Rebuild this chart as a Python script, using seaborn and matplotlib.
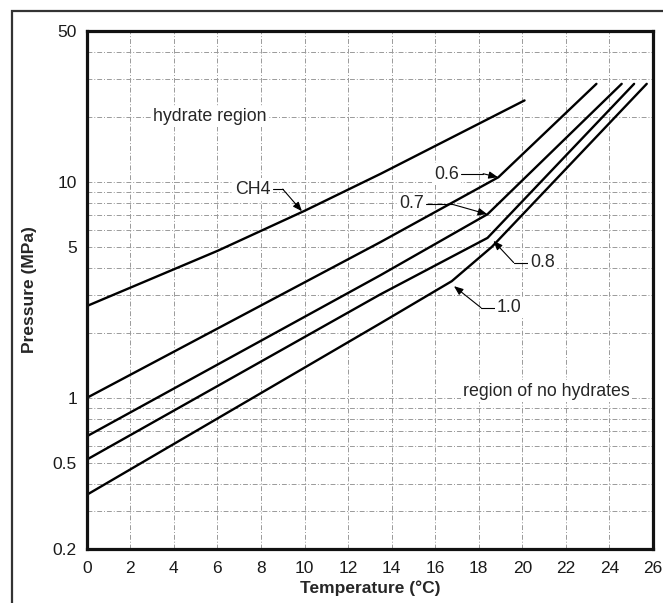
import matplotlib
matplotlib.use("Agg")
import matplotlib.pyplot as plt
import seaborn as sns
import pandas as pd
from matplotlib.ticker import FixedLocator, NullFormatter, LogLocator
from matplotlib.patches import Rectangle

# ---- data ----
temp_ch4 = [0, 6, 10, 13.5, 20.1]
pres_ch4 = [2.66, 4.79, 7.34, 10.9, 23.8]

temp_06 = [0, 13.47, 18.9, 23.4]
pres_06 = [1.0, 5.25, 10.5, 28.4]

temp_07 = [0, 13.47, 18.4, 24.56]
pres_07 = [0.664, 3.69, 7.08, 28.4]

temp_08 = [0, 13.47, 18.4, 25.13]
pres_08 = [0.518, 3.01, 5.5, 28.4]

temp_10 = [0, 13.47, 16.76, 18.6, 25.71]
pres_10 = [0.356, 2.21, 3.47, 5.0, 28.4]

series_names = ["CH4", "0.6", "0.7", "0.8", "1.0"]
x_ticks = [0, 2, 4, 6, 8, 10, 12, 14, 16, 18, 20, 22, 24, 26]
y_ticks = [0.2, 0.5, 1, 5, 10, 50]
y_tick_labels = ["0.2", "0.5", "1", "5", "10", "50"]

frames = []
for name, t, p in zip(series_names,
                      [temp_ch4, temp_06, temp_07, temp_08, temp_10],
                      [pres_ch4, pres_06, pres_07, pres_08, pres_10]):
    frames.append(pd.DataFrame({"T": t, "P": p, "gas": name}))
df = pd.concat(frames, ignore_index=True)

sns.set_style("white")
plt.rcParams["font.family"] = ["Liberation Sans", "DejaVu Sans"]

fig = plt.figure(figsize=(6.63, 6.03), dpi=100)
ax = fig.add_axes([0.1308, 0.0896, 0.985 - 0.1308, 0.949 - 0.0896])

sns.lineplot(data=df, x="T", y="P", units="gas", estimator=None, sort=False,
             color="black", lw=1.7, ax=ax, legend=False)

ax.set_yscale("log")
ax.set_xlim(0, 26)
ax.set_ylim(0.2, 50)

ax.set_xticks(x_ticks)
ax.set_xticklabels([str(v) for v in x_ticks])
ax.yaxis.set_major_locator(FixedLocator(y_ticks))
ax.set_yticklabels(y_tick_labels)
ax.yaxis.set_minor_locator(LogLocator(base=10, subs=range(1, 10)))
ax.yaxis.set_minor_formatter(NullFormatter())
ax.tick_params(axis="both", which="both", length=0, labelsize=12.5,
               colors="#1a1a1a")
ax.tick_params(axis="x", pad=9)
ax.tick_params(axis="y", pad=7)

# grid
grid_kw = dict(color="#9a9a9a", lw=0.7, linestyle=(0, (5, 2, 1, 2)))
for xv in x_ticks[1:-1]:
    ax.axvline(xv, zorder=0, **grid_kw)
ax.yaxis.grid(True, which="both", zorder=0, **grid_kw)
ax.set_axisbelow(True)

for s in ax.spines.values():
    s.set_linewidth(2.3)
    s.set_color("#111111")

ax.set_xlabel("Temperature (°C)", fontsize=12.5, fontweight="bold", labelpad=3)
ax.set_ylabel("Pressure (MPa)", fontsize=12.5, fontweight="bold")
ax.yaxis.set_label_coords(-0.088, 0.5)

bbox_w = dict(facecolor="white", edgecolor="none", pad=1.5)
ax.text(5.66, 20, "hydrate region", fontsize=12.8, ha="center", va="center", bbox=bbox_w)
ax.text(21.12, 1.075, "region of no hydrates", fontsize=12.8, ha="center", va="center", bbox=bbox_w)

# labelled arrows: (text pos, knee, tip)
ann = [
    ("CH4", (7.64, 9.25), (9.0, 9.25), (9.88, 7.31), "left"),
    ("0.6", (16.53, 10.86), (18.2, 10.9), (18.88, 10.5), "left"),
    ("0.7", (14.92, 7.96), (16.76, 7.88), (18.39, 7.08), "left"),
    ("0.8", (20.93, 4.23), (19.6, 4.23), (18.67, 5.33), "right"),
    ("1.0", (19.39, 2.615), (18.1, 2.615), (16.86, 3.29), "right"),
]
for txt, tp, knee, tip, side in ann:
    t = ax.text(tp[0], tp[1], txt, fontsize=12.8, ha="center", va="center", bbox=bbox_w)
    fig.canvas.draw()
    bb = t.get_window_extent().transformed(ax.transData.inverted())
    start_x = bb.x1 + 0.1 if side == "left" else bb.x0 - 0.1
    ax.plot([start_x, knee[0]], [knee[1], knee[1]], color="black", lw=0.8)
    ax.annotate("", xy=tip, xytext=knee,
                arrowprops=dict(arrowstyle="-|>,head_length=0.55,head_width=0.22",
                                lw=0.8, color="black", shrinkA=0, shrinkB=0))

# outer frame of the figure
fig.patches.append(Rectangle((12 / 663, -0.1), 1.2, 1 - 11 / 603 + 0.1,
                             transform=fig.transFigure, fill=False,
                             edgecolor="#333333", lw=1.6))

fig.savefig("out.png", dpi=100)
